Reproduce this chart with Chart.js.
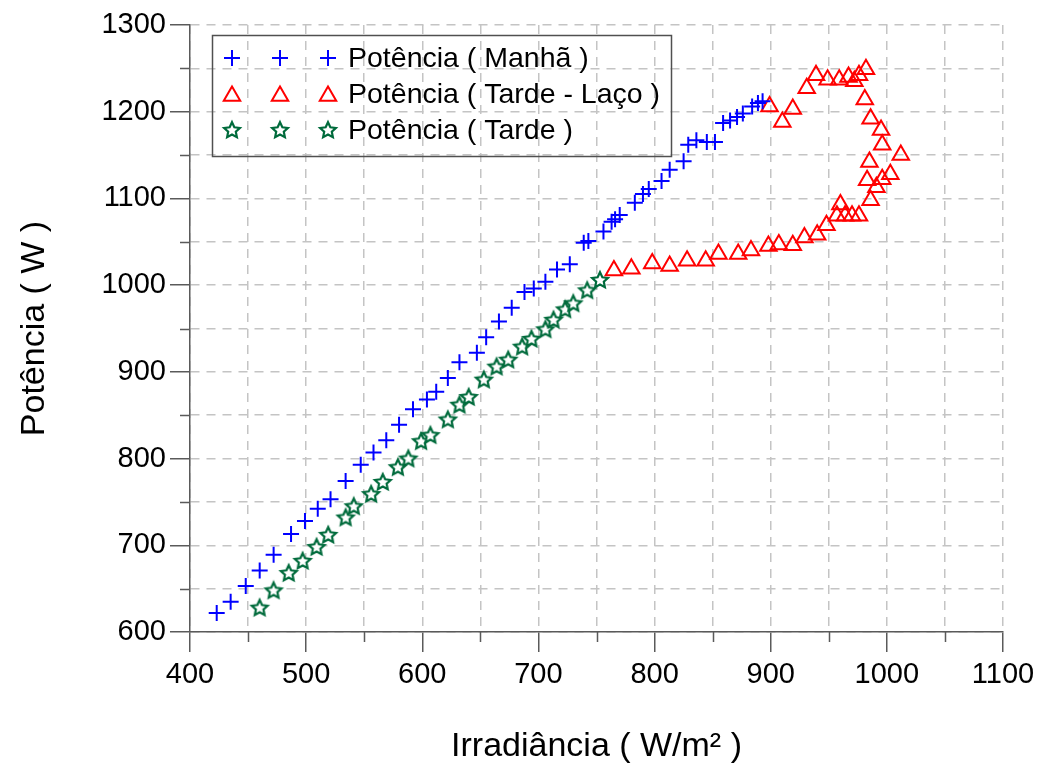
<!DOCTYPE html>
<html><head><meta charset="utf-8">
<script src="https://cdn.jsdelivr.net/npm/chart.js@4"></script>
<style>html,body{margin:0;padding:0;background:#fff}#wrap{width:1041px;height:765px}</style>
</head><body><div id="wrap"><canvas id="c" width="1041" height="765"></canvas></div>
<script>
// ---- data ----
const manhaIrr = [423,435,448,460,472,487,499,510,521,534,547,558,569,580,592,604,612,622,632,647,655,666,677,688,696,706,716,727,739,743,756,763,766,770,783,790,795,806,813,825,829,836,845,852,859,865,871,876,884,889,893];
const manhaPot = [622,635,653,671,689,713,728,742,753,774,793,807,821,839,857,868,877,893,911,922,940,958,974,992,996,1004,1018,1024,1049,1051,1062,1073,1076,1081,1095,1105,1111,1120,1133,1143,1162,1167,1165,1165,1187,1190,1194,1198,1206,1210,1212];
const lacoIrr = [765,780,798,813,828,844,855,872,883,898,907,919,929,940,948,957,960,964,970,976,986,991,983,996,1003,985,1012,996,995,986,981,982,976,972,967,959,949,939,931,919,910,899];
const lacoPot = [1017,1019,1025,1022,1028,1028,1036,1036,1040,1045,1047,1046,1055,1058,1069,1080,1093,1080,1080,1080,1098,1113,1121,1122,1128,1142,1150,1162,1179,1192,1214,1249,1242,1235,1240,1237,1237,1242,1227,1203,1188,1206];
const tardeIrr = [460,472,485,497,509,519,534,541,556,566,579,588,599,607,622,632,640,653,664,674,686,694,706,713,723,730,742,753];
const tardePot = [628,648,668,682,698,712,732,745,759,773,790,800,820,827,845,862,871,891,906,914,929,938,949,960,972,979,994,1006];
const seriesLabels = ['Potência ( Manhã )', 'Potência ( Tarde - Laço )', 'Potência ( Tarde )'];
const xTitle = 'Irradiância ( W/m² )';
const yTitle = 'Potência ( W )';

const BLUE = '#0000ff', RED = '#ff0000', GREEN = '#006b3c';
const AXIS = '#5a5a5a', GRID = '#c4c4c4';
const FONT = '"Liberation Sans", Arial, sans-serif';
const CROSS_R = 8, TRI_R = 9.5;

function pts(xs, ys) { return xs.map((x, i) => ({x: x, y: ys[i]})); }

function makeStar() {
  const s = 22, c = document.createElement('canvas');
  c.width = s; c.height = s;
  const g = c.getContext('2d');
  const cx = s / 2, cy = s / 2 + 0.5, R = 8.3, r = 4;
  g.beginPath();
  for (let i = 0; i < 10; i++) {
    const a = -Math.PI / 2 + i * Math.PI / 5;
    const rr = i % 2 ? r : R;
    g.lineTo(cx + rr * Math.cos(a), cy + rr * Math.sin(a));
  }
  g.closePath();
  g.fillStyle = '#ffffff'; g.fill();
  g.lineWidth = 2.2; g.strokeStyle = GREEN; g.lineJoin = 'miter'; g.stroke();
  return c;
}
const starImg = makeStar();

function drawCross(ctx, x, y) {
  ctx.save(); ctx.strokeStyle = BLUE; ctx.lineWidth = 2;
  ctx.beginPath(); ctx.moveTo(x - CROSS_R, y); ctx.lineTo(x + CROSS_R, y);
  ctx.moveTo(x, y - CROSS_R); ctx.lineTo(x, y + CROSS_R); ctx.stroke(); ctx.restore();
}
function drawTri(ctx, x, y) {
  const r = TRI_R;
  ctx.save(); ctx.strokeStyle = RED; ctx.lineWidth = 2;
  ctx.beginPath();
  ctx.moveTo(x, y - r);
  ctx.lineTo(x + r * Math.sin(2 * Math.PI / 3), y + r / 2);
  ctx.lineTo(x - r * Math.sin(2 * Math.PI / 3), y + r / 2);
  ctx.closePath(); ctx.stroke(); ctx.restore();
}
function drawStar(ctx, x, y) { ctx.drawImage(starImg, x - starImg.width / 2, y - starImg.height / 2); }

const boxLegend = {
  id: 'boxLegend',
  afterDraw(chart) {
    const ctx = chart.ctx;
    ctx.save();
    ctx.strokeStyle = '#505050'; ctx.lineWidth = 1.5;
    ctx.strokeRect(212.5, 35.5, 459, 121);
    const drawers = [drawCross, drawTri, drawStar];
    const offs = [0, 2, 0];
    seriesLabels.forEach((lab, i) => {
      const y = 58 + i * 36;
      [232, 280, 328].forEach(x => drawers[i](ctx, x, y + offs[i]));
      ctx.fillStyle = '#000'; ctx.font = '28.5px ' + FONT; ctx.textBaseline = 'middle'; ctx.textAlign = 'left';
      ctx.fillText(lab, 348, y + 1);
    });
    ctx.restore();
  }
};

const minorTicks = {
  id: 'minorTicks',
  afterDraw(chart) {
    const ctx = chart.ctx, xs = chart.scales.x, ys = chart.scales.y, a = chart.chartArea;
    ctx.save(); ctx.strokeStyle = AXIS; ctx.lineWidth = 1.5; ctx.beginPath();
    xs.ticks.forEach(t => { if (t.value % 100 !== 0) { const p = Math.round(xs.getPixelForValue(t.value)) + 0.5; ctx.moveTo(p, a.bottom); ctx.lineTo(p, a.bottom + 10); } });
    ys.ticks.forEach(t => { if (t.value % 100 !== 0) { const p = Math.round(ys.getPixelForValue(t.value)) + 0.5; ctx.moveTo(a.left - 10, p); ctx.lineTo(a.left, p); } });
    ctx.stroke(); ctx.restore();
  }
};

function axisCommon(min, max) {
  return {
    type: 'linear', min: min, max: max,
    border: { display: true, color: AXIS, width: 1.5, dash: [9, 7] },
    grid: {
      color: GRID, lineWidth: 1.5, drawTicks: true, tickLength: 20, tickWidth: 1.5,
      tickBorderDash: [],
      tickColor: c => (c.tick && c.tick.value % 100 === 0) ? AXIS : 'rgba(0,0,0,0)'
    },
    ticks: {
      stepSize: 50, autoSkip: false, color: '#000', font: { family: FONT, size: 29 },
      callback: v => (v % 100 === 0 ? String(v) : '')
    }
  };
}

const xOpt = axisCommon(400, 1100);
xOpt.ticks.padding = 6; xOpt.ticks.maxRotation = 0;
xOpt.title = { display: true, text: xTitle, color: '#000', font: { family: FONT, size: 34 }, padding: { top: 0, bottom: -2 } };
xOpt.afterFit = s => { s.height = 133; };
const yOpt = axisCommon(600, 1300);
yOpt.ticks.padding = 4;
yOpt.title = { display: true, text: yTitle, color: '#000', font: { family: FONT, size: 34 }, padding: { top: 14, bottom: 0 } };
yOpt.afterFit = s => { s.width = 190; };

new Chart(document.getElementById('c'), {
  type: 'scatter',
  data: {
    datasets: [
      { label: seriesLabels[0], data: pts(manhaIrr, manhaPot), pointStyle: 'cross', pointRadius: CROSS_R, pointHoverRadius: CROSS_R, borderColor: BLUE, backgroundColor: BLUE, borderWidth: 2, pointBorderWidth: 2 },
      { label: seriesLabels[1], data: pts(lacoIrr, lacoPot), pointStyle: 'triangle', pointRadius: TRI_R, pointHoverRadius: TRI_R, borderColor: RED, backgroundColor: 'rgba(0,0,0,0)', borderWidth: 2, pointBorderWidth: 2 },
      { label: seriesLabels[2], data: pts(tardeIrr, tardePot), pointStyle: starImg, pointRadius: 8, pointHoverRadius: 8, borderColor: GREEN, backgroundColor: '#fff' }
    ]
  },
  options: {
    responsive: false, animation: false, devicePixelRatio: 1,
    layout: { padding: { left: 0, right: 38, top: 25, bottom: 0 } },
    plugins: { legend: { display: false }, tooltip: { enabled: false } },
    scales: { x: xOpt, y: yOpt }
  },
  plugins: [minorTicks, boxLegend]
});
</script></body></html>
